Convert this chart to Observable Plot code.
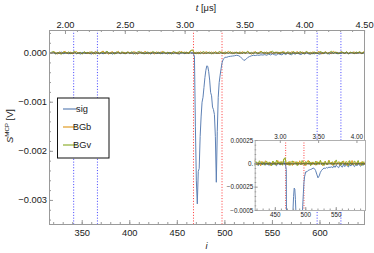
<!DOCTYPE html>
<html><head><meta charset="utf-8">
<script src="https://cdn.jsdelivr.net/npm/d3@7"></script>
<script src="https://cdn.jsdelivr.net/npm/@observablehq/plot@0.6"></script>
<style>
body{margin:0;background:#fff}
#chart{position:relative;width:374px;height:253px;overflow:hidden}
#chart svg{position:absolute}
</style>
</head><body><div id="chart"></div>
<script>
// ---------- data (values in microvolts) ----------
const seriesNames = ["sig", "BGb", "BGv"];
const seriesColors = ["#5E81B5", "#E19C24", "#8FB032"];

// background BGb: samples 316..646 every 2
const bgbUV = [
  18,-12,30,8,-22,27,-6,15,38,-9,5,22,-18,12,33,-4,9,-15,21,3,
  -10,24,14,-21,32,6,-13,20,42,-3,11,-24,17,28,-8,3,36,-12,9,18,
  -16,26,5,-9,30,14,-20,8,22,-6,39,2,-14,18,11,-22,27,6,-4,33,
  15,-10,21,-18,9,28,-3,17,-12,36,5,24,-8,14,45,60,-9,18,-15,27,
  8,-18,30,12,-6,22,-14,33,3,-9,26,15,-20,11,38,-4,18,-12,21,6,
  -15,28,9,-8,35,2,-21,17,24,-10,14,40,-3,20,-16,8,30,-9,12,22,
  -14,18,5,32,-6,11,-18,27,15,-4,36,-12,9,21,-9,28,3,-15,24,14,
  -8,33,17,-20,11,26,-3,14,-12,39,6,20,-16,30,9,-6,22,-10,15,5,
  27,-14,18,8,-9,32
];
// background BGv: samples 316..646 every 2
const bgvUV = [
  -8,21,33,-15,12,5,-27,24,9,-4,28,-18,14,38,-10,6,18,-22,30,2,
  15,-12,26,8,-20,35,-3,12,21,-14,42,5,-9,17,-24,27,11,-6,32,-16,
  9,23,-10,28,3,-18,20,36,-8,14,-21,26,6,-12,33,15,-4,21,-15,11,
  27,-9,17,5,-22,30,12,-14,39,2,20,-6,24,-16,52,66,3,-12,23,-18,
  14,32,-10,6,24,-20,17,3,-9,36,12,-15,26,8,-4,30,-21,18,11,-8,
  29,-14,21,5,38,-9,15,-18,27,3,-12,33,9,-6,23,-15,17,42,-3,12,
  20,-16,30,6,-10,26,14,-21,35,2,-8,18,29,-14,9,36,-4,15,-18,24,
  3,-12,32,17,-6,23,-15,11,39,-9,20,5,-18,27,12,-3,30,-14,17,8,
  -10,24,6,33,-8,15
];
// signal before the pulse: samples 316..464 every 2
const sigPreUV = [
  -12,8,18,-22,5,-9,27,-15,3,14,-18,9,-6,21,-14,2,-21,12,5,-10,
  17,-8,-20,11,24,-3,-14,6,-17,15,30,-9,3,-22,12,-5,18,-12,8,-2,
  -15,20,-6,9,-18,14,-10,5,23,-14,2,-8,17,-20,6,12,-9,-3,21,-15,
  9,-5,-17,14,3,-12,18,-8,-21,11,5,-14,15,-6,30
];
// signal pulse: samples 465..500 every 1
const sigPulseUV = [
  -5,10,-20,-60,-1500,-2600,-3070,-2410,-2350,-1700,
  -1300,-1000,-900,-700,-500,-350,-260,-270,-380,-550,
  -800,-870,-1100,-1150,-1250,-1700,-2630,-1600,-900,-600,
  -450,-320,-200,-140,-110,-85
];
// signal after the pulse: samples 502..646 every 2
const sigPostUV = [
  -85,-70,-65,-60,-55,-45,-50,-70,-110,-150,-130,-90,-70,-55,-45,-50,-40,-45,-35,-40,
  -30,-45,-20,-38,-15,-32,-42,-12,-26,-36,-6,-30,-2,-22,-34,-5,-24,6,-18,-30,
  -4,-22,9,-15,-26,0,-17,10,-12,-24,7,-10,16,-8,-20,12,-3,14,-16,8,
  -9,19,-5,13,-14,4,16,-11,9,-2,17,-12,6
];

// integration windows (sample index)
const blueWindows = [341, 366, 597, 622];
const redWindows = [467, 497];

// ticks
const xTicks = [350, 400, 450, 500, 550, 600];
const xTickLabels = ["350", "400", "450", "500", "550", "600"];
const yTicks = [0, -0.001, -0.002, -0.003];
const yTickLabels = ["0.000", "\u22120.001", "\u22120.002", "\u22120.003"];
const tTicks = [2.0, 2.5, 3.0, 3.5, 4.0, 4.5];
const tTickLabels = ["2.00", "2.50", "3.00", "3.50", "4.00", "4.50"];
const insetXTicks = [450, 500, 550];
const insetXTickLabels = ["450", "500", "550"];
const insetYTicks = [0.00025, 0, -0.00025, -0.0005];
const insetYTickLabels = ["0.00025", "0.", "\u22120.00025", "\u22120.0005"];
const insetTTicks = [3.0, 3.5, 4.0];
const insetTTickLabels = ["3.00", "3.50", "4.00"];

// time axis calibration: t = 2.00 µs at sample 332.4, 7.95 ns per sample
const tRefUs = 2.0, iRef = 332.4, dtUs = 0.00795;
const tToI = t => iRef + (t - tRefUs) / dtUs;

// ---------- build records ----------
const seq = (start, step, vals, name) => vals.map((u, k) => ({i: start + k * step, v: u * 1e-6, s: name}));
const sigData = [...seq(316, 2, sigPreUV, "sig"), ...seq(465, 1, sigPulseUV, "sig"), ...seq(502, 2, sigPostUV, "sig")];
const bgbData = seq(316, 2, bgbUV, "BGb");
const bgvData = seq(316, 2, bgvUV, "BGv");

const FONT = "'Liberation Sans', Arial, sans-serif";
const TXT = "#1a1a1a";
const FRAME = "#9a9a9a";
const BLUE_DOT = "#5050ff", RED_DOT = "#ff4545";

// ---------- main plot ----------
const W = 374, H = 253;
const mT = 30, mR = 10, mB = 29, mL = 49;
const innerW = W - mL - mR, innerH = H - mT - mB;
const tI = tTicks.map(tToI);
const lbl = (ticks, labels) => d => labels[ticks.indexOf(d)];

const main = Plot.plot({
  width: W, height: H, marginTop: mT, marginRight: mR, marginBottom: mB, marginLeft: mL,
  style: {fontFamily: FONT, fontSize: "9.3px", color: TXT, background: "transparent"},
  x: {domain: [315.6, 646.8]},
  y: {domain: [-0.00349, 0.00046]},
  marks: [
    Plot.ruleX(blueWindows, {stroke: BLUE_DOT, strokeWidth: 1, strokeDasharray: "1.1,1.7"}),
    Plot.ruleX(redWindows, {stroke: RED_DOT, strokeWidth: 1, strokeDasharray: "1.1,1.7"}),
    Plot.line(sigData, {x: "i", y: "v", stroke: seriesColors[0], strokeWidth: 1, clip: true}),
    Plot.line(bgbData, {x: "i", y: "v", stroke: seriesColors[1], strokeWidth: 1, clip: true}),
    Plot.line(bgvData, {x: "i", y: "v", stroke: seriesColors[2], strokeWidth: 1, clip: true}),
    Plot.ruleY([0], {stroke: "#333", strokeWidth: 0.7}),
    Plot.frame({stroke: FRAME}),
    // inward ticks
    Plot.ruleX(xTicks, {insetTop: innerH - 4, stroke: FRAME}),
    Plot.ruleX(d3.range(320, 647, 10), {insetTop: innerH - 2, stroke: FRAME}),
    Plot.ruleX(tI, {insetBottom: innerH - 4, stroke: FRAME}),
    Plot.ruleX(d3.range(2.0, 4.51, 0.1).map(tToI), {insetBottom: innerH - 2, stroke: FRAME}),
    Plot.ruleY(yTicks, {insetRight: innerW - 4, stroke: FRAME}),
    Plot.ruleY(d3.range(-0.0034, 0.00041, 0.0002), {insetRight: innerW - 2, stroke: FRAME}),
    // labels
    Plot.axisX({ticks: xTicks, tickSize: 0, tickPadding: 5, tickFormat: lbl(xTicks, xTickLabels), label: null}),
    Plot.axisX({anchor: "top", ticks: tI, tickSize: 0, tickPadding: 3, tickFormat: lbl(tI, tTickLabels), label: null}),
    Plot.axisY({ticks: yTicks, tickSize: 0, tickPadding: 2.5, tickFormat: lbl(yTicks, yTickLabels), label: null})
  ]
});
d3.select(main).style("left", "0px").style("top", "0px");

const ms = d3.select(main);
// axis titles
const tt = ms.append("text").attr("x", 206).attr("y", 10.5).attr("text-anchor", "middle")
  .attr("font-family", FONT).attr("font-size", 9.3).attr("fill", TXT);
tt.append("tspan").attr("font-style", "italic").text("t");
tt.append("tspan").text(" [\u03bcs]");
ms.append("text").attr("x", 206.5).attr("y", 249).attr("text-anchor", "middle")
  .attr("font-family", FONT).attr("font-size", 9.3).attr("font-style", "italic").attr("fill", TXT).text("i");
const yl = ms.append("text").attr("transform", "translate(12.5,126) rotate(-90)").attr("text-anchor", "middle")
  .attr("font-family", FONT).attr("font-size", 9.3).attr("fill", TXT);
yl.append("tspan").attr("font-style", "italic").text("S");
yl.append("tspan").attr("font-size", 6.2).attr("dy", -3.5).text("MCP");
yl.append("tspan").attr("dy", 3.5).text(" [V]");

// legend
const lg = ms.append("g").attr("transform", "translate(57.5,98)");
lg.append("rect").attr("width", 51.5).attr("height", 60).attr("fill", "#fff").attr("stroke", "#111").attr("stroke-width", 1);
seriesNames.forEach((n, k) => {
  const y = 11 + k * 18;
  lg.append("line").attr("x1", 5.5).attr("x2", 19.5).attr("y1", y).attr("y2", y)
    .attr("stroke", seriesColors[k]).attr("stroke-width", 1.2);
  lg.append("text").attr("x", 24.5).attr("y", y + 3.3).attr("font-family", FONT)
    .attr("font-size", 9.3).attr("fill", TXT).text(n);
});

// ---------- inset ----------
const iW = 150, iH = 95, iT = 12, iR = 5, iB = 13, iL = 34.7;
const iInnerW = iW - iL - iR, iInnerH = iH - iT - iB;
const itI = insetTTicks.map(tToI);
const inset = Plot.plot({
  width: iW, height: iH, marginTop: iT, marginRight: iR, marginBottom: iB, marginLeft: iL,
  style: {fontFamily: FONT, fontSize: "6.3px", color: TXT, background: "transparent", overflow: "visible"},
  x: {domain: [417, 598]},
  y: {domain: [-0.0005, 0.00025]},
  marks: [
    Plot.frame({fill: "#fff", stroke: "none"}),
    Plot.ruleX(redWindows, {stroke: RED_DOT, strokeWidth: 1, strokeDasharray: "1,1.5"}),
    Plot.line(sigData, {x: "i", y: "v", stroke: seriesColors[0], strokeWidth: 1, clip: true}),
    Plot.line(bgbData, {x: "i", y: "v", stroke: seriesColors[1], strokeWidth: 1, clip: true}),
    Plot.line(bgvData, {x: "i", y: "v", stroke: seriesColors[2], strokeWidth: 1, clip: true}),
    Plot.ruleY([0], {stroke: "#333", strokeWidth: 0.7}),
    Plot.frame({stroke: "#b0b0b0"}),
    Plot.ruleX(insetXTicks, {insetTop: iInnerH - 3, stroke: FRAME}),
    Plot.ruleX(d3.range(420, 598, 10), {insetTop: iInnerH - 1.5, stroke: FRAME}),
    Plot.ruleX(itI, {insetBottom: iInnerH - 3, stroke: FRAME}),
    Plot.ruleY(insetYTicks, {insetRight: iInnerW - 3, stroke: FRAME}),
    Plot.ruleY(d3.range(-0.00045, 0.00025, 0.00005), {insetRight: iInnerW - 1.5, stroke: FRAME}),
    Plot.axisX({ticks: insetXTicks, tickSize: 0, tickPadding: 2, tickFormat: lbl(insetXTicks, insetXTickLabels), label: null}),
    Plot.axisX({anchor: "top", ticks: itI, tickSize: 0, tickPadding: 2, tickFormat: lbl(itI, insetTTickLabels), label: null}),
    Plot.axisY({ticks: insetYTicks, tickSize: 0, tickPadding: 2, tickFormat: lbl(insetYTicks, insetYTickLabels), label: null})
  ]
});
d3.select(inset).style("left", "220px").style("top", "128px");

const chart = document.getElementById("chart");
chart.appendChild(main);
chart.appendChild(inset);
</script></body></html>
